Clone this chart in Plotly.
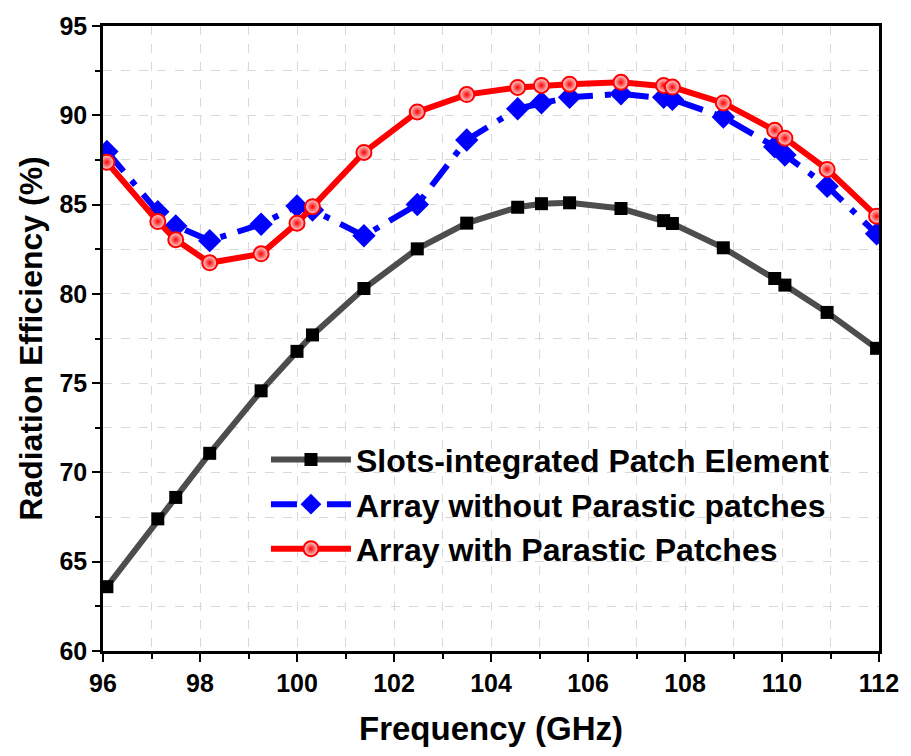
import plotly.graph_objects as go

freq = [96.08, 97.13, 97.5, 98.2, 99.26, 100.0, 100.32, 101.38, 102.48, 103.5, 104.55,
        105.04, 105.62, 106.68, 107.56, 107.74, 108.79, 109.85, 110.06, 110.93, 111.95]
slots_patch = [63.6, 67.4, 68.6, 71.07, 74.57, 76.78, 77.7, 80.3, 82.52, 83.96, 84.85,
               85.05, 85.1, 84.78, 84.1, 83.94, 82.58, 80.86, 80.49, 78.96, 76.95]
array_without = [87.97, 84.6, 83.8, 82.98, 83.9, 84.92, 84.7, 83.25, 85.0, 88.62, 90.37,
                 90.7, 91.01, 91.2, 91.01, 90.89, 89.9, 88.24, 87.78, 86.03, 83.36]
array_with = [87.37, 84.05, 83.03, 81.74, 82.24, 83.96, 84.88, 87.92, 90.19, 91.16, 91.56,
              91.67, 91.74, 91.85, 91.67, 91.58, 90.69, 89.16, 88.72, 86.97, 84.35]

names = ["Slots-integrated Patch Element", "Array without Parastic patches",
         "Array with Parastic Patches"]

fig = go.Figure()
fig.add_trace(go.Scatter(
    x=freq, y=slots_patch, name=names[0], mode="lines+markers",
    line=dict(color="#4d4d4d", width=6),
    marker=dict(symbol="square", size=13, color="black")))
fig.add_trace(go.Scatter(
    x=freq, y=array_without, name=names[1], mode="lines+markers",
    line=dict(color="#0000ff", width=6, dash="26px,12px,6px,12px"),
    marker=dict(symbol="diamond", size=18, color="#0000ff")))
fig.add_trace(go.Scatter(
    x=freq, y=array_with, name=names[2], mode="lines+markers",
    line=dict(color="#ff0000", width=6),
    marker=dict(symbol="circle", size=15, color="#ffe0e0",
                gradient=dict(type="radial", color="#ff0000"),
                line=dict(color="#ff0000", width=2))))

font_family = "Liberation Sans, Arial, sans-serif"
axis_common = dict(
    showline=True, linecolor="black", linewidth=2.5, mirror=True,
    ticks="outside", ticklen=8, tickwidth=2, tickcolor="black",
    showgrid=True, gridcolor="#d9d9d9", griddash="dash", gridwidth=1,
    zeroline=False,
    tickfont=dict(family=font_family, size=25, color="black", weight="bold"),
)

fig.update_xaxes(
    range=[96, 112], tick0=96, dtick=2,
    minor=dict(dtick=1, ticks="outside", ticklen=5, tickwidth=2, tickcolor="black",
               showgrid=True, gridcolor="#d9d9d9", griddash="dash"),
    title=dict(text="Frequency (GHz)", standoff=22,
               font=dict(family=font_family, size=33, color="black", weight="bold")),
    **axis_common)
fig.update_yaxes(
    range=[60, 95], tick0=60, dtick=5,
    minor=dict(dtick=2.5, ticks="outside", ticklen=5, tickwidth=2, tickcolor="black",
               showgrid=True, gridcolor="#d9d9d9", griddash="dash"),
    title=dict(text="Radiation Efficiency (%)", standoff=8,
               font=dict(family=font_family, size=32, color="black", weight="bold")),
    **axis_common)

fig.update_layout(
    width=911, height=756,
    margin=dict(l=103, r=31, t=19, b=105),
    paper_bgcolor="white", plot_bgcolor="white",
    showlegend=True,
    legend=dict(x=0.21, y=0.35, xanchor="left", yanchor="top",
                bgcolor="rgba(0,0,0,0)", borderwidth=0,
                font=dict(family=font_family, size=32, color="black", weight="bold"),
                itemwidth=80, tracegroupgap=0),
)

fig.write_html("out.html")
